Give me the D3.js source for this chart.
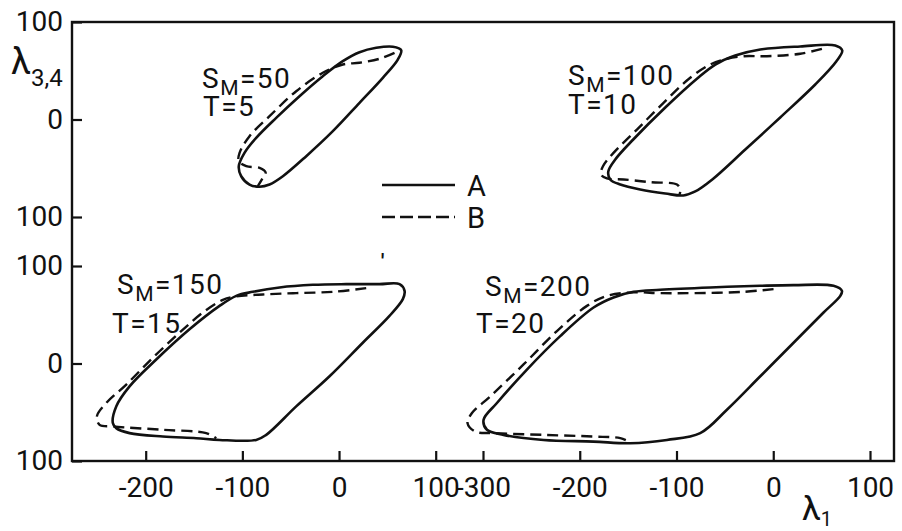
<!DOCTYPE html>
<html>
<head>
<meta charset="utf-8">
<script src="https://cdn.jsdelivr.net/npm/d3@7"></script>
<style>
  html, body { margin: 0; padding: 0; background: #fff; }
  svg { display: block; }
  text { font-family: Roboto, "DejaVu Sans", sans-serif; fill: #111; }
</style>
</head>
<body>
<svg id="chart" width="902" height="531"></svg>
<script>
// ---------------- data ----------------
const xTicksLeft  = [-200, -100, 0, 100];
const xTicksRight = [-300, -200, -100, 0, 100];
const yTicks      = [-100, 0, 100];
const legendNames = ["A", "B"];

// S_M = 50, T = 5  (top-left)
const sm50A = [[64.3,71.1],[55.7,74.6],[38.5,73.5],[21.2,69.0],[3.9,59.8],[-16.8,44.4],[-40.9,23.9],[-65.0,1.7],[-85.7,-18.8],[-97.8,-34.2],[-103.7,-47.9],[-101.2,-58.2],[-92.6,-66.7],[-82.2,-69.0],[-71.9,-66.7],[-58.1,-58.2],[-33.9,-37.6],[-6.4,-12.0],[21.2,17.1],[45.3,42.8],[60.8,61.5]];
const sm50B = [[57.4,68.4],[41.9,62.3],[21.2,58.2],[3.9,56.4],[-16.8,47.9],[-44.3,29.0],[-71.9,3.4],[-92.6,-17.1],[-102.9,-34.2],[-103.7,-42.8],[-96.0,-47.9],[-82.2,-49.5],[-76.0,-54.1],[-78.8,-59.8],[-84.0,-68.4]];

// S_M = 100, T = 10 (top-right)
const sm100A = [[71.3,70.8],[64.1,75.9],[27.9,74.9],[-13.4,71.8],[-39.3,65.6],[-59.9,56.4],[-78.6,42.1],[-111.6,12.3],[-144.7,-20.5],[-163.3,-41.0],[-170.5,-53.3],[-168.5,-61.5],[-158.1,-66.7],[-137.5,-71.8],[-111.6,-75.9],[-93.0,-77.9],[-80.6,-73.8],[-63.0,-61.5],[-28.9,-30.8],[7.2,2.1],[43.4,35.9],[65.1,59.5]];
const sm100B = [[50.3,72.5],[27.9,67.4],[-6.5,64.9],[-30.7,64.9],[-47.9,62.3],[-65.1,56.4],[-85.8,42.8],[-113.4,17.1],[-140.9,-10.3],[-165.1,-34.2],[-176.0,-47.9],[-178.1,-56.4],[-171.9,-60.5],[-154.7,-61.5],[-127.1,-64.3],[-99.5,-66.7],[-96.1,-71.8],[-96.8,-76.9]];

// S_M = 150, T = 15 (bottom-left)
const sm150A = [[67.8,74.5],[62.6,81.4],[41.9,81.4],[7.4,81.4],[-27.1,80.7],[-61.5,78.0],[-89.2,73.5],[-106.3,69.4],[-123.6,59.1],[-154.7,35.1],[-189.1,4.1],[-216.7,-23.4],[-230.5,-44.0],[-234.0,-61.1],[-230.5,-66.3],[-216.7,-71.4],[-182.3,-74.9],[-147.7,-76.6],[-123.6,-78.4],[-85.7,-78.4],[-75.3,-73.2],[-44.3,-44.0],[-9.8,-13.1],[24.6,21.3],[52.2,48.8],[66.0,66.0]];
const sm150B = [[28.1,77.3],[-6.4,73.5],[-44.3,72.2],[-78.8,70.8],[-106.3,68.8],[-120.2,65.3],[-140.9,52.3],[-165.0,31.6],[-192.6,5.9],[-220.1,-21.6],[-240.8,-40.5],[-250.5,-54.3],[-247.7,-62.9],[-234.0,-64.6],[-182.3,-68.0],[-137.4,-71.4],[-127.0,-76.6]];

// S_M = 200, T = 20 (bottom-right)
const sm200A = [[71.0,74.5],[62.3,79.7],[21.0,80.4],[-13.4,79.7],[-65.1,78.0],[-116.8,75.6],[-144.4,73.5],[-165.1,67.7],[-185.7,57.4],[-220.2,28.1],[-254.6,-6.2],[-285.6,-40.5],[-299.4,-57.7],[-295.9,-68.0],[-278.8,-73.2],[-237.4,-78.4],[-185.7,-80.1],[-147.8,-81.8],[-109.9,-78.4],[-75.5,-71.4],[-47.9,-47.4],[-13.4,-13.1],[21.0,21.3],[52.0,52.3],[69.3,69.4]];
const sm200B = [[0.3,76.3],[-30.7,73.5],[-82.4,72.2],[-116.8,72.2],[-144.4,72.9],[-171.9,69.4],[-192.6,59.1],[-223.6,33.3],[-258.1,-1.0],[-292.5,-33.7],[-311.4,-50.8],[-316.0,-61.1],[-308.0,-69.8],[-289.1,-71.4],[-237.4,-73.2],[-185.7,-74.9],[-158.1,-76.6],[-149.5,-80.1]];

const smValues = [50, 100, 150, 200];
const tValues  = [5, 10, 15, 20];

// ---------------- layout ----------------
const svg = d3.select("#chart");
const frame = { left: 72, right: 894, top: 22, bottom: 461 };

const xL = d3.scaleLinear().domain([-200, 100]).range([145.7, 435.7]);
const xR = d3.scaleLinear().domain([-300, 100]).range([483, 870]);
const yT = d3.scaleLinear().domain([-100, 100]).range([217, 22]);
const yB = d3.scaleLinear().domain([-100, 100]).range([461, 266]);

const panels = [
  { A: sm50A,  B: sm50B,  x: xL, y: yT, sm: smValues[0], t: tValues[0], lx: 202, ly: 88,  tx: 203, ty: 115 },
  { A: sm100A, B: sm100B, x: xR, y: yT, sm: smValues[1], t: tValues[1], lx: 568, ly: 85,  tx: 568, ty: 113 },
  { A: sm150A, B: sm150B, x: xL, y: yB, sm: smValues[2], t: tValues[2], lx: 117, ly: 294, tx: 112, ty: 332 },
  { A: sm200A, B: sm200B, x: xR, y: yB, sm: smValues[3], t: tValues[3], lx: 485, ly: 296, tx: 476, ty: 332 }
];

const ink = "#111";

// frame
svg.append("rect")
  .attr("x", frame.left).attr("y", frame.top)
  .attr("width", frame.right - frame.left).attr("height", frame.bottom - frame.top)
  .attr("fill", "none").attr("stroke", ink).attr("stroke-width", 2.4);

function styleAxis(g) {
  g.select(".domain").remove();
  g.selectAll(".tick line").attr("stroke", ink).attr("stroke-width", 2.2);
  g.selectAll(".tick text").style("font-size", "28px").attr("fill", ink);
}

// y axes (two panels)
[yT, yB].forEach(ys => {
  svg.append("g")
    .attr("transform", `translate(${frame.left},0)`)
    .call(d3.axisLeft(ys).tickValues(yTicks).tickSize(-10).tickPadding(9)
      .tickFormat(d => String(Math.abs(d))))
    .call(styleAxis);
});

// x axes (two columns, along the bottom)
[[xL, xTicksLeft], [xR, xTicksRight]].forEach(([xs, tv]) => {
  svg.append("g")
    .attr("transform", `translate(0,${frame.bottom})`)
    .call(d3.axisBottom(xs).tickValues(tv).tickSize(-10).tickPadding(16)
      .tickFormat(d => String(d)))
    .call(styleAxis);
});

// loops
panels.forEach(p => {
  const lineClosed = d3.line().x(d => p.x(d[0])).y(d => p.y(d[1]))
    .curve(d3.curveCatmullRomClosed.alpha(0.5));
  const lineOpen = d3.line().x(d => p.x(d[0])).y(d => p.y(d[1]))
    .curve(d3.curveCatmullRom.alpha(0.5));
  svg.append("path").attr("d", lineOpen(p.B))
    .attr("fill", "none").attr("stroke", ink).attr("stroke-width", 2.4)
    .attr("stroke-dasharray", "11,6");
  svg.append("path").attr("d", lineClosed(p.A))
    .attr("fill", "none").attr("stroke", ink).attr("stroke-width", 2.6)
    .attr("stroke-linejoin", "round");

  const t1 = svg.append("text").attr("x", p.lx).attr("y", p.ly)
    .style("font-size", "28px").style("letter-spacing", "1.5px");
  t1.append("tspan").text("S");
  t1.append("tspan").attr("dy", 7).style("font-size", "21px").text("M");
  t1.append("tspan").attr("dy", -7).text("=" + p.sm);
  svg.append("text").attr("x", p.tx).attr("y", p.ty + 1)
    .style("font-size", "28px").style("letter-spacing", "1.5px")
    .text("T=" + p.t);
});

// legend
const leg = [{ y: 185, dash: null, name: legendNames[0] }, { y: 217, dash: "13,5", name: legendNames[1] }];
leg.forEach(l => {
  svg.append("line").attr("x1", 382).attr("x2", 455).attr("y1", l.y).attr("y2", l.y)
    .attr("stroke", ink).attr("stroke-width", 2.6)
    .attr("stroke-dasharray", l.dash);
  svg.append("text").attr("x", 467).attr("y", l.y + 11)
    .style("font-size", "29px").text(l.name);
});

// axis titles
const yt = svg.append("text").attr("x", 11).attr("y", 74).style("font-size", "36px");
yt.append("tspan").text("λ");
yt.append("tspan").attr("dy", 12).style("font-size", "24px").text("3,4");

const xt = svg.append("text").attr("x", 802).attr("y", 520).style("font-size", "34px");
xt.append("tspan").text("λ");
xt.append("tspan").attr("dy", 6).style("font-size", "20px").text("1");

// scan speck
svg.append("text").attr("x", 381).attr("y", 268).style("font-size", "20px").style("font-weight", "bold").text("'");
</script>
</body>
</html>
